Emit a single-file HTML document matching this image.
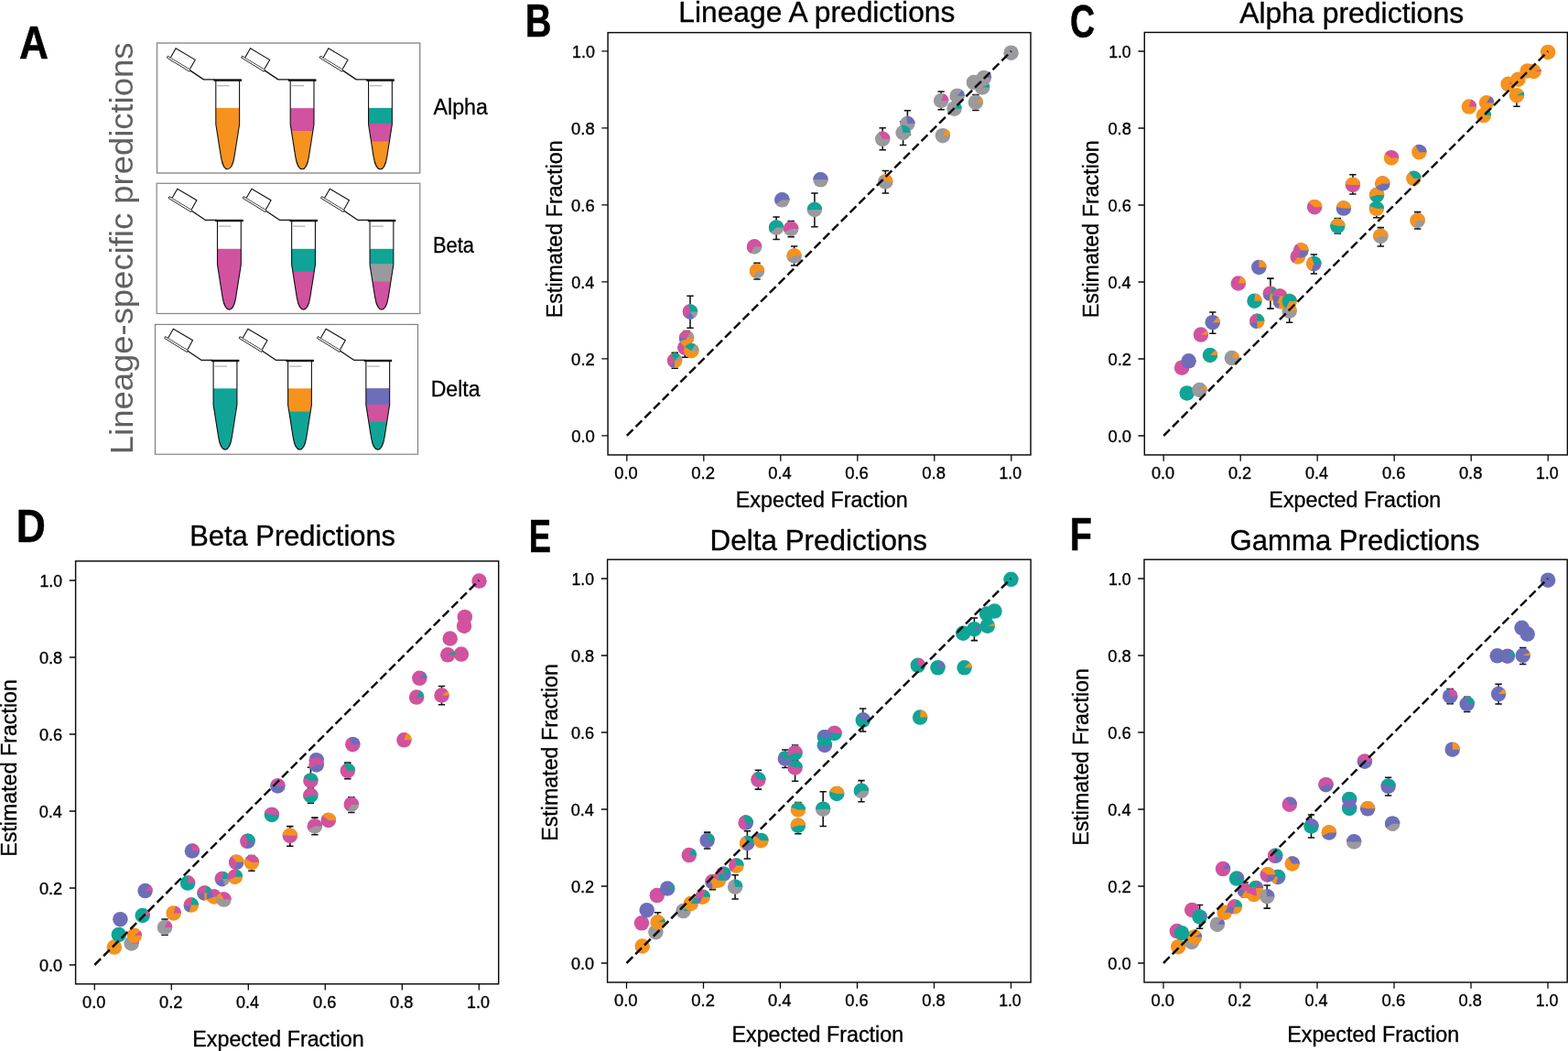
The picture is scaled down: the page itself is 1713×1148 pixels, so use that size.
<!DOCTYPE html>
<html lang="en"><head><meta charset="utf-8"><title>Lineage-specific predictions</title>
<style>html,body{margin:0;padding:0;background:#fff}body{width:1713px;height:1148px;overflow:hidden}svg{display:block;font-family:"Liberation Sans",Arial,sans-serif}</style></head><body>
<svg width="1713" height="1148" viewBox="0 0 1713 1148">
<rect width="1713" height="1148" fill="#fff"/>
<g id="panel-A">
<rect x="171.5" y="47" width="287.2" height="142" fill="#fff" stroke="#8c8c8c" stroke-width="1.4"/>
<rect x="171.2" y="200.3" width="287.6" height="142.2" fill="#fff" stroke="#8c8c8c" stroke-width="1.3"/>
<rect x="169.5" y="354.4" width="287" height="141.8" fill="#fff" stroke="#7a7a7a" stroke-width="1.1"/>
<g transform="translate(248.7 87.3)">
<clipPath id="tc0"><path d="M-12.9 0V48.5L-7.3 84C-6.2 91 -3.5 97.4 0 97.4C3.5 97.4 6.2 91 7.3 84L12.9 48.5V0Z"/></clipPath>
<g clip-path="url(#tc0)">
<rect x="-14" y="30.6" width="28" height="67.9" fill="#F6921E"/>
</g>
<path d="M-12.9 0V48.5L-7.3 84C-6.2 91 -3.5 97.4 0 97.4C3.5 97.4 6.2 91 7.3 84L12.9 48.5V0Z" fill="none" stroke="#111" stroke-width="1.1"/>
<path d="M-11.5 6.4H2" stroke="#888" stroke-width="0.8" fill="none"/>
<path d="M-15.2 0.3H15.4" stroke="#111" stroke-width="2.4" fill="none"/>
<path d="M-14 -0.4H-26.2L-41.1 -10.4" stroke="#111" stroke-width="1.3" fill="none" stroke-linejoin="round"/>
<path d="M-65.4 -26.1L-40.7 -11.2L-41.7 -9.1L-66.4 -24.3Z" fill="#fff" stroke="#111" stroke-width="0.9"/>
<path d="M-62.2 -24.6L-56.6 -34.5L-35.5 -21.9L-41.1 -12" fill="#fff" stroke="#111" stroke-width="1.1"/>
</g>
<g transform="translate(330.1 87.3)">
<clipPath id="tc1"><path d="M-12.9 0V48.5L-7.3 84C-6.2 91 -3.5 97.4 0 97.4C3.5 97.4 6.2 91 7.3 84L12.9 48.5V0Z"/></clipPath>
<g clip-path="url(#tc1)">
<rect x="-14" y="30.8" width="28" height="25.5" fill="#D1529F"/>
<rect x="-14" y="55.8" width="28" height="42.7" fill="#F6921E"/>
</g>
<path d="M-12.9 0V48.5L-7.3 84C-6.2 91 -3.5 97.4 0 97.4C3.5 97.4 6.2 91 7.3 84L12.9 48.5V0Z" fill="none" stroke="#111" stroke-width="1.1"/>
<path d="M-11.5 6.4H2" stroke="#888" stroke-width="0.8" fill="none"/>
<path d="M-15.2 0.3H15.4" stroke="#111" stroke-width="2.4" fill="none"/>
<path d="M-14 -0.4H-26.2L-41.1 -10.4" stroke="#111" stroke-width="1.3" fill="none" stroke-linejoin="round"/>
<path d="M-65.4 -26.1L-40.7 -11.2L-41.7 -9.1L-66.4 -24.3Z" fill="#fff" stroke="#111" stroke-width="0.9"/>
<path d="M-62.2 -24.6L-56.6 -34.5L-35.5 -21.9L-41.1 -12" fill="#fff" stroke="#111" stroke-width="1.1"/>
</g>
<g transform="translate(415.45 87.3)">
<clipPath id="tc2"><path d="M-12.9 0V48.5L-7.3 84C-6.2 91 -3.5 97.4 0 97.4C3.5 97.4 6.2 91 7.3 84L12.9 48.5V0Z"/></clipPath>
<g clip-path="url(#tc2)">
<rect x="-14" y="30.6" width="28" height="17.6" fill="#10A497"/>
<rect x="-14" y="47.7" width="28" height="20" fill="#D1529F"/>
<rect x="-14" y="67.2" width="28" height="31.3" fill="#F6921E"/>
</g>
<path d="M-12.9 0V48.5L-7.3 84C-6.2 91 -3.5 97.4 0 97.4C3.5 97.4 6.2 91 7.3 84L12.9 48.5V0Z" fill="none" stroke="#111" stroke-width="1.1"/>
<path d="M-11.5 6.4H2" stroke="#888" stroke-width="0.8" fill="none"/>
<path d="M-15.2 0.3H15.4" stroke="#111" stroke-width="2.4" fill="none"/>
<path d="M-14 -0.4H-26.2L-41.1 -10.4" stroke="#111" stroke-width="1.3" fill="none" stroke-linejoin="round"/>
<path d="M-65.4 -26.1L-40.7 -11.2L-41.7 -9.1L-66.4 -24.3Z" fill="#fff" stroke="#111" stroke-width="0.9"/>
<path d="M-62.2 -24.6L-56.6 -34.5L-35.5 -21.9L-41.1 -12" fill="#fff" stroke="#111" stroke-width="1.1"/>
</g>
<g transform="translate(250.4 240.7)">
<clipPath id="tc3"><path d="M-12.9 0V48.5L-7.3 84C-6.2 91 -3.5 97.4 0 97.4C3.5 97.4 6.2 91 7.3 84L12.9 48.5V0Z"/></clipPath>
<g clip-path="url(#tc3)">
<rect x="-14" y="31.1" width="28" height="67.4" fill="#D1529F"/>
</g>
<path d="M-12.9 0V48.5L-7.3 84C-6.2 91 -3.5 97.4 0 97.4C3.5 97.4 6.2 91 7.3 84L12.9 48.5V0Z" fill="none" stroke="#111" stroke-width="1.1"/>
<path d="M-11.5 6.4H2" stroke="#888" stroke-width="0.8" fill="none"/>
<path d="M-15.2 0.3H15.4" stroke="#111" stroke-width="2.4" fill="none"/>
<path d="M-14 -0.4H-26.2L-41.1 -10.4" stroke="#111" stroke-width="1.3" fill="none" stroke-linejoin="round"/>
<path d="M-65.4 -26.1L-40.7 -11.2L-41.7 -9.1L-66.4 -24.3Z" fill="#fff" stroke="#111" stroke-width="0.9"/>
<path d="M-62.2 -24.6L-56.6 -34.5L-35.5 -21.9L-41.1 -12" fill="#fff" stroke="#111" stroke-width="1.1"/>
</g>
<g transform="translate(331.55 240.7)">
<clipPath id="tc4"><path d="M-12.9 0V48.5L-7.3 84C-6.2 91 -3.5 97.4 0 97.4C3.5 97.4 6.2 91 7.3 84L12.9 48.5V0Z"/></clipPath>
<g clip-path="url(#tc4)">
<rect x="-14" y="31.1" width="28" height="25.5" fill="#10A497"/>
<rect x="-14" y="56.1" width="28" height="42.4" fill="#D1529F"/>
</g>
<path d="M-12.9 0V48.5L-7.3 84C-6.2 91 -3.5 97.4 0 97.4C3.5 97.4 6.2 91 7.3 84L12.9 48.5V0Z" fill="none" stroke="#111" stroke-width="1.1"/>
<path d="M-11.5 6.4H2" stroke="#888" stroke-width="0.8" fill="none"/>
<path d="M-15.2 0.3H15.4" stroke="#111" stroke-width="2.4" fill="none"/>
<path d="M-14 -0.4H-26.2L-41.1 -10.4" stroke="#111" stroke-width="1.3" fill="none" stroke-linejoin="round"/>
<path d="M-65.4 -26.1L-40.7 -11.2L-41.7 -9.1L-66.4 -24.3Z" fill="#fff" stroke="#111" stroke-width="0.9"/>
<path d="M-62.2 -24.6L-56.6 -34.5L-35.5 -21.9L-41.1 -12" fill="#fff" stroke="#111" stroke-width="1.1"/>
</g>
<g transform="translate(416.95 240.7)">
<clipPath id="tc5"><path d="M-12.9 0V48.5L-7.3 84C-6.2 91 -3.5 97.4 0 97.4C3.5 97.4 6.2 91 7.3 84L12.9 48.5V0Z"/></clipPath>
<g clip-path="url(#tc5)">
<rect x="-14" y="31.1" width="28" height="17" fill="#10A497"/>
<rect x="-14" y="47.6" width="28" height="19.8" fill="#9A999E"/>
<rect x="-14" y="66.9" width="28" height="31.6" fill="#D1529F"/>
</g>
<path d="M-12.9 0V48.5L-7.3 84C-6.2 91 -3.5 97.4 0 97.4C3.5 97.4 6.2 91 7.3 84L12.9 48.5V0Z" fill="none" stroke="#111" stroke-width="1.1"/>
<path d="M-11.5 6.4H2" stroke="#888" stroke-width="0.8" fill="none"/>
<path d="M-15.2 0.3H15.4" stroke="#111" stroke-width="2.4" fill="none"/>
<path d="M-14 -0.4H-26.2L-41.1 -10.4" stroke="#111" stroke-width="1.3" fill="none" stroke-linejoin="round"/>
<path d="M-65.4 -26.1L-40.7 -11.2L-41.7 -9.1L-66.4 -24.3Z" fill="#fff" stroke="#111" stroke-width="0.9"/>
<path d="M-62.2 -24.6L-56.6 -34.5L-35.5 -21.9L-41.1 -12" fill="#fff" stroke="#111" stroke-width="1.1"/>
</g>
<g transform="translate(246 393.7)">
<clipPath id="tc6"><path d="M-12.9 0V48.5L-7.3 84C-6.2 91 -3.5 97.4 0 97.4C3.5 97.4 6.2 91 7.3 84L12.9 48.5V0Z"/></clipPath>
<g clip-path="url(#tc6)">
<rect x="-14" y="30.6" width="28" height="67.9" fill="#10A497"/>
</g>
<path d="M-12.9 0V48.5L-7.3 84C-6.2 91 -3.5 97.4 0 97.4C3.5 97.4 6.2 91 7.3 84L12.9 48.5V0Z" fill="none" stroke="#111" stroke-width="1.1"/>
<path d="M-11.5 6.4H2" stroke="#888" stroke-width="0.8" fill="none"/>
<path d="M-15.2 0.3H15.4" stroke="#111" stroke-width="2.4" fill="none"/>
<path d="M-14 -0.4H-26.2L-41.1 -10.4" stroke="#111" stroke-width="1.3" fill="none" stroke-linejoin="round"/>
<path d="M-65.4 -26.1L-40.7 -11.2L-41.7 -9.1L-66.4 -24.3Z" fill="#fff" stroke="#111" stroke-width="0.9"/>
<path d="M-62.2 -24.6L-56.6 -34.5L-35.5 -21.9L-41.1 -12" fill="#fff" stroke="#111" stroke-width="1.1"/>
</g>
<g transform="translate(327.5 393.7)">
<clipPath id="tc7"><path d="M-12.9 0V48.5L-7.3 84C-6.2 91 -3.5 97.4 0 97.4C3.5 97.4 6.2 91 7.3 84L12.9 48.5V0Z"/></clipPath>
<g clip-path="url(#tc7)">
<rect x="-14" y="30.6" width="28" height="25.8" fill="#F6921E"/>
<rect x="-14" y="55.9" width="28" height="42.6" fill="#10A497"/>
</g>
<path d="M-12.9 0V48.5L-7.3 84C-6.2 91 -3.5 97.4 0 97.4C3.5 97.4 6.2 91 7.3 84L12.9 48.5V0Z" fill="none" stroke="#111" stroke-width="1.1"/>
<path d="M-11.5 6.4H2" stroke="#888" stroke-width="0.8" fill="none"/>
<path d="M-15.2 0.3H15.4" stroke="#111" stroke-width="2.4" fill="none"/>
<path d="M-14 -0.4H-26.2L-41.1 -10.4" stroke="#111" stroke-width="1.3" fill="none" stroke-linejoin="round"/>
<path d="M-65.4 -26.1L-40.7 -11.2L-41.7 -9.1L-66.4 -24.3Z" fill="#fff" stroke="#111" stroke-width="0.9"/>
<path d="M-62.2 -24.6L-56.6 -34.5L-35.5 -21.9L-41.1 -12" fill="#fff" stroke="#111" stroke-width="1.1"/>
</g>
<g transform="translate(412.75 393.7)">
<clipPath id="tc8"><path d="M-12.9 0V48.5L-7.3 84C-6.2 91 -3.5 97.4 0 97.4C3.5 97.4 6.2 91 7.3 84L12.9 48.5V0Z"/></clipPath>
<g clip-path="url(#tc8)">
<rect x="-14" y="30.4" width="28" height="18.2" fill="#6D6EBA"/>
<rect x="-14" y="48.1" width="28" height="19.5" fill="#D1529F"/>
<rect x="-14" y="67.1" width="28" height="31.4" fill="#10A497"/>
</g>
<path d="M-12.9 0V48.5L-7.3 84C-6.2 91 -3.5 97.4 0 97.4C3.5 97.4 6.2 91 7.3 84L12.9 48.5V0Z" fill="none" stroke="#111" stroke-width="1.1"/>
<path d="M-11.5 6.4H2" stroke="#888" stroke-width="0.8" fill="none"/>
<path d="M-15.2 0.3H15.4" stroke="#111" stroke-width="2.4" fill="none"/>
<path d="M-14 -0.4H-26.2L-41.1 -10.4" stroke="#111" stroke-width="1.3" fill="none" stroke-linejoin="round"/>
<path d="M-65.4 -26.1L-40.7 -11.2L-41.7 -9.1L-66.4 -24.3Z" fill="#fff" stroke="#111" stroke-width="0.9"/>
<path d="M-62.2 -24.6L-56.6 -34.5L-35.5 -21.9L-41.1 -12" fill="#fff" stroke="#111" stroke-width="1.1"/>
</g>
<text x="473.52" y="125" font-size="24.56" stroke="#000" stroke-width="0.3" textLength="59.37" lengthAdjust="spacingAndGlyphs">Alpha</text>
<text x="472.96" y="275.9" font-size="24.56" stroke="#000" stroke-width="0.3" textLength="44.93" lengthAdjust="spacingAndGlyphs">Beta</text>
<text x="470.64" y="432.9" font-size="24.56" stroke="#000" stroke-width="0.3" textLength="53.96" lengthAdjust="spacingAndGlyphs">Delta</text>
<text transform="translate(144.7 496.14) rotate(-90)" font-size="35.47" fill="#616163" textLength="449.55" lengthAdjust="spacingAndGlyphs">Lineage-specific predictions</text>
<text x="20.98" y="64.4" font-size="49.88" font-weight="bold" stroke="#000" stroke-width="0.5" textLength="31.96" lengthAdjust="spacingAndGlyphs">A</text>
</g>
<g id="panel-B">
<rect x="664.1" y="35.6" width="461.9" height="461.3" fill="#fff" stroke="#0a0a0a" stroke-width="1.45"/>
<path d="M684.8 496.9v6.8M664.1 475.9h-6.8M768.8 496.9v6.8M664.1 391.9h-6.8M852.8 496.9v6.8M664.1 307.9h-6.8M936.8 496.9v6.8M664.1 223.9h-6.8M1020.8 496.9v6.8M664.1 139.9h-6.8M1104.8 496.9v6.8M664.1 55.9h-6.8" stroke="#0a0a0a" stroke-width="1.3" fill="none"/>
<g class="ticks">
<text x="671.28" y="522.7" font-size="19.14" stroke="#000" stroke-width="0.35" textLength="25.43" lengthAdjust="spacingAndGlyphs">0.0</text>
<text x="624.14" y="482.7" font-size="19.14" stroke="#000" stroke-width="0.35" textLength="25.79" lengthAdjust="spacingAndGlyphs">0.0</text>
<text x="755.28" y="522.7" font-size="19.14" stroke="#000" stroke-width="0.35" textLength="25.76" lengthAdjust="spacingAndGlyphs">0.2</text>
<text x="624.11" y="398.7" font-size="19.14" stroke="#000" stroke-width="0.35" textLength="25.74" lengthAdjust="spacingAndGlyphs">0.2</text>
<text x="839.31" y="522.7" font-size="19.14" stroke="#000" stroke-width="0.35" textLength="25.39" lengthAdjust="spacingAndGlyphs">0.4</text>
<text x="624.19" y="314.7" font-size="19.14" stroke="#000" stroke-width="0.35" textLength="25.04" lengthAdjust="spacingAndGlyphs">0.4</text>
<text x="923.26" y="522.7" font-size="19.14" stroke="#000" stroke-width="0.35" textLength="25.63" lengthAdjust="spacingAndGlyphs">0.6</text>
<text x="624.12" y="230.7" font-size="19.14" stroke="#000" stroke-width="0.35" textLength="25.61" lengthAdjust="spacingAndGlyphs">0.6</text>
<text x="1007.31" y="522.7" font-size="19.14" stroke="#000" stroke-width="0.35" textLength="25.67" lengthAdjust="spacingAndGlyphs">0.8</text>
<text x="624.12" y="146.7" font-size="19.14" stroke="#000" stroke-width="0.35" textLength="25.62" lengthAdjust="spacingAndGlyphs">0.8</text>
<text x="1091.57" y="522.7" font-size="19.14" stroke="#000" stroke-width="0.35" textLength="24.46" lengthAdjust="spacingAndGlyphs">1.0</text>
<text x="624.99" y="62.7" font-size="19.14" stroke="#000" stroke-width="0.35" textLength="24.86" lengthAdjust="spacingAndGlyphs">1.0</text>
</g>
<path d="M737.2 385.3V402.2M733.5 385.3H740.9M733.5 402.2H740.9M750.1 361.5V377M746.4 361.5H753.8M746.4 377H753.8M748.4 370V390.2M744.7 370H752.1M744.7 390.2H752.1M754 323.2V358.3M750.3 323.2H757.7M750.3 358.3H757.7M827 287.2V305M823.3 287.2H830.7M823.3 305H830.7M867.6 269V290M863.9 269H871.3M863.9 290H871.3M848.1 237V261.5M844.4 237H851.8M844.4 261.5H851.8M864.2 241.4V258.7M860.5 241.4H867.9M860.5 258.7H867.9M889.9 211V247.8M886.2 211H893.6M886.2 247.8H893.6M967.3 186.5V211M963.6 186.5H971M963.6 211H971M964.2 139.7V163.7M960.5 139.7H967.9M960.5 163.7H967.9M991.4 120.8V147M987.7 120.8H995.1M987.7 147H995.1M986.6 133V158.5M982.9 133H990.3M982.9 158.5H990.3M1028.1 100V119.7M1024.4 100H1031.8M1024.4 119.7H1031.8M1065.9 103.5V120.5M1062.2 103.5H1069.6M1062.2 120.5H1069.6" stroke="#111" stroke-width="1.55" fill="none"/>
<circle cx="737.2" cy="393.8" r="8.25" fill="#F6921E"/><path d="M737.2 393.8L745.45 393.8A8.25 8.25 0 0 0 743.04 387.98Z" fill="#9A999E"/><path d="M737.2 393.8L743.04 387.98A8.25 8.25 0 0 0 732.62 386.94Z" fill="#10A497"/><path d="M737.2 393.8L732.62 386.94A8.25 8.25 0 0 0 731.64 399.9Z" fill="#D1529F"/><path d="M737.2 393.8L731.64 399.9A8.25 8.25 0 0 0 736.55 402.02Z" fill="#6D6EBA"/>
<circle cx="750.1" cy="369.2" r="8.25" fill="#F6921E"/><path d="M750.1 369.2L758.35 369.2A8.25 8.25 0 0 0 754.72 362.36Z" fill="#9A999E"/><path d="M750.1 369.2L754.72 362.36A8.25 8.25 0 0 0 741.86 368.85Z" fill="#D1529F"/><path d="M750.1 369.2L741.86 368.85A8.25 8.25 0 0 0 747.77 377.11Z" fill="#6D6EBA"/>
<circle cx="748.4" cy="379.7" r="8.25" fill="#9A999E"/><path d="M748.4 379.7L756.65 379.7A8.25 8.25 0 0 0 743 373.47Z" fill="#F6921E"/><path d="M748.4 379.7L743 373.47A8.25 8.25 0 0 0 753.19 386.42Z" fill="#D1529F"/>
<circle cx="755.4" cy="383.2" r="8.25" fill="#F6921E"/><path d="M755.4 383.2L763.65 383.2A8.25 8.25 0 0 0 759.46 376.02Z" fill="#9A999E"/><path d="M755.4 383.2L759.46 376.02A8.25 8.25 0 0 0 748.23 379.12Z" fill="#10A497"/>
<circle cx="754" cy="340.5" r="8.25" fill="#9A999E"/><path d="M754 340.5L762.25 340.5A8.25 8.25 0 0 0 751.71 332.57Z" fill="#10A497"/><path d="M754 340.5L751.71 332.57A8.25 8.25 0 0 0 748.69 346.81Z" fill="#D1529F"/><path d="M754 340.5L748.69 346.81A8.25 8.25 0 0 0 758.21 347.59Z" fill="#6D6EBA"/>
<circle cx="827" cy="296" r="8.25" fill="#9A999E"/><path d="M827 296L835.25 296A8.25 8.25 0 1 0 822.64 303.01Z" fill="#F6921E"/>
<circle cx="824.1" cy="269.5" r="8.25" fill="#9A999E"/><path d="M824.1 269.5L832.35 269.5A8.25 8.25 0 1 0 820.05 276.69Z" fill="#D1529F"/>
<circle cx="867.6" cy="279.5" r="8.25" fill="#9A999E"/><path d="M867.6 279.5L875.85 279.5A8.25 8.25 0 1 0 860.02 282.77Z" fill="#F6921E"/>
<circle cx="848.1" cy="248.6" r="8.25" fill="#9A999E"/><path d="M848.1 248.6L856.35 248.6A8.25 8.25 0 1 0 841.78 253.91Z" fill="#10A497"/>
<circle cx="864.2" cy="249.9" r="8.25" fill="#9A999E"/><path d="M864.2 249.9L872.45 249.9A8.25 8.25 0 1 0 856.8 253.55Z" fill="#D1529F"/>
<circle cx="854.4" cy="218.3" r="8.25" fill="#9A999E"/><path d="M854.4 218.3L862.65 218.3A8.25 8.25 0 1 0 847.61 222.99Z" fill="#6D6EBA"/>
<circle cx="889.9" cy="229" r="8.25" fill="#9A999E"/><path d="M889.9 229L898.15 229A8.25 8.25 0 1 0 881.67 229.6Z" fill="#10A497"/>
<circle cx="896.5" cy="196.3" r="8.25" fill="#9A999E"/><path d="M896.5 196.3L904.75 196.3A8.25 8.25 0 0 0 888.25 196.09Z" fill="#6D6EBA"/>
<circle cx="967.3" cy="198.4" r="8.25" fill="#9A999E"/><path d="M967.3 198.4L975.55 198.4A8.25 8.25 0 0 0 963.45 191.11Z" fill="#F6921E"/>
<circle cx="964.2" cy="151.8" r="8.25" fill="#9A999E"/><path d="M964.2 151.8L972.45 151.8A8.25 8.25 0 0 0 960.01 144.69Z" fill="#D1529F"/>
<circle cx="991.4" cy="135.1" r="8.25" fill="#9A999E"/><path d="M991.4 135.1L999.65 135.1A8.25 8.25 0 0 0 990.37 126.92Z" fill="#6D6EBA"/>
<circle cx="986.6" cy="145" r="8.25" fill="#9A999E"/><path d="M986.6 145L994.85 145A8.25 8.25 0 0 0 984.98 136.91Z" fill="#10A497"/>
<circle cx="1029.9" cy="148.2" r="8.25" fill="#9A999E"/><path d="M1029.9 148.2L1038.15 148.2A8.25 8.25 0 0 0 1033.49 140.77Z" fill="#F6921E"/>
<circle cx="1028.1" cy="110" r="8.25" fill="#9A999E"/><path d="M1028.1 110L1036.35 110A8.25 8.25 0 0 0 1031.49 102.48Z" fill="#D1529F"/>
<circle cx="1042.5" cy="118.7" r="8.25" fill="#9A999E"/><path d="M1042.5 118.7L1050.75 118.7A8.25 8.25 0 0 0 1047.42 112.08Z" fill="#10A497"/>
<circle cx="1045.7" cy="104.7" r="8.25" fill="#9A999E"/><path d="M1045.7 104.7L1053.95 104.7A8.25 8.25 0 0 0 1050.93 98.32Z" fill="#6D6EBA"/>
<circle cx="1065.9" cy="111.7" r="8.25" fill="#9A999E"/><path d="M1065.9 111.7L1074.15 111.7A8.25 8.25 0 0 0 1072.79 107.17Z" fill="#F6921E"/>
<circle cx="1063.8" cy="90.1" r="8.25" fill="#9A999E"/>
<circle cx="1073.1" cy="95.4" r="8.25" fill="#9A999E"/><path d="M1073.1 95.4L1081.35 95.4A8.25 8.25 0 0 0 1080.44 91.63Z" fill="#10A497"/>
<circle cx="1074.9" cy="84.9" r="8.25" fill="#9A999E"/><path d="M1074.9 84.9L1083.15 84.9A8.25 8.25 0 0 0 1082.34 81.33Z" fill="#6D6EBA"/>
<circle cx="1104.6" cy="57.7" r="8.25" fill="#9A999E"/>
<path d="M684.8 475.9L1104.8 55.9" stroke="#111" stroke-width="2.5" stroke-dasharray="9.63 4.16" fill="none"/>
<text x="741.3" y="23.9" font-size="31.4" stroke="#000" stroke-width="0.35" textLength="302.07" lengthAdjust="spacingAndGlyphs">Lineage A predictions</text>
<text x="803.79" y="554.3" font-size="23.98" stroke="#000" stroke-width="0.35" textLength="187.98" lengthAdjust="spacingAndGlyphs">Expected Fraction</text>
<text transform="translate(614.1 347.18) rotate(-90)" font-size="24.42" stroke="#000" stroke-width="0.35" textLength="193.87" lengthAdjust="spacingAndGlyphs">Estimated Fraction</text>
<text x="573.84" y="40.4" font-size="49.88" font-weight="bold" stroke="#000" stroke-width="0.5" textLength="28.75" lengthAdjust="spacingAndGlyphs">B</text>
</g>
<g id="panel-C">
<rect x="1250.3" y="35.4" width="462.1" height="461.5" fill="#fff" stroke="#0a0a0a" stroke-width="1.45"/>
<path d="M1271.2 496.9v6.8M1250.3 476h-6.8M1355.2 496.9v6.8M1250.3 392h-6.8M1439.2 496.9v6.8M1250.3 308h-6.8M1523.2 496.9v6.8M1250.3 224h-6.8M1607.2 496.9v6.8M1250.3 140h-6.8M1691.2 496.9v6.8M1250.3 56h-6.8" stroke="#0a0a0a" stroke-width="1.3" fill="none"/>
<g class="ticks">
<text x="1257.93" y="522.7" font-size="19.14" stroke="#000" stroke-width="0.35" textLength="25.29" lengthAdjust="spacingAndGlyphs">0.0</text>
<text x="1210.48" y="482.8" font-size="19.14" stroke="#000" stroke-width="0.35" textLength="25.53" lengthAdjust="spacingAndGlyphs">0.0</text>
<text x="1341.91" y="522.7" font-size="19.14" stroke="#000" stroke-width="0.35" textLength="25.31" lengthAdjust="spacingAndGlyphs">0.2</text>
<text x="1210.41" y="398.8" font-size="19.14" stroke="#000" stroke-width="0.35" textLength="25.58" lengthAdjust="spacingAndGlyphs">0.2</text>
<text x="1425.97" y="522.7" font-size="19.14" stroke="#000" stroke-width="0.35" textLength="25.05" lengthAdjust="spacingAndGlyphs">0.4</text>
<text x="1210.49" y="314.8" font-size="19.14" stroke="#000" stroke-width="0.35" textLength="25.12" lengthAdjust="spacingAndGlyphs">0.4</text>
<text x="1509.91" y="522.7" font-size="19.14" stroke="#000" stroke-width="0.35" textLength="25.47" lengthAdjust="spacingAndGlyphs">0.6</text>
<text x="1210.43" y="230.8" font-size="19.14" stroke="#000" stroke-width="0.35" textLength="25.43" lengthAdjust="spacingAndGlyphs">0.6</text>
<text x="1593.91" y="522.7" font-size="19.14" stroke="#000" stroke-width="0.35" textLength="25.49" lengthAdjust="spacingAndGlyphs">0.8</text>
<text x="1210.45" y="146.8" font-size="19.14" stroke="#000" stroke-width="0.35" textLength="25.41" lengthAdjust="spacingAndGlyphs">0.8</text>
<text x="1677.97" y="522.7" font-size="19.14" stroke="#000" stroke-width="0.35" textLength="24.64" lengthAdjust="spacingAndGlyphs">1.0</text>
<text x="1211.14" y="62.8" font-size="19.14" stroke="#000" stroke-width="0.35" textLength="24.55" lengthAdjust="spacingAndGlyphs">1.0</text>
</g>
<path d="M1324.8 341V364.2M1321.1 341H1328.5M1321.1 364.2H1328.5M1387.9 304.1V337.1M1384.2 304.1H1391.6M1384.2 337.1H1391.6M1408.7 327V352.2M1405 327H1412.4M1405 352.2H1412.4M1435.4 277.9V298.9M1431.7 277.9H1439.1M1431.7 298.9H1439.1M1461.3 238.6V254.9M1457.6 238.6H1465M1457.6 254.9H1465M1477.9 190.7V212M1474.2 190.7H1481.6M1474.2 212H1481.6M1503.8 218V237.7M1500.1 218H1507.5M1500.1 237.7H1507.5M1508.3 248.6V268.9M1504.6 248.6H1512M1504.6 268.9H1512M1548.7 231.6V250M1545 231.6H1552.4M1545 250H1552.4M1657 98V116.2M1653.3 98H1660.7M1653.3 116.2H1660.7" stroke="#111" stroke-width="1.55" fill="none"/>
<circle cx="1296.7" cy="429.4" r="8.25" fill="#10A497"/>
<circle cx="1310.5" cy="425.9" r="8.25" fill="#9A999E"/><path d="M1310.5 425.9L1318.75 425.9A8.25 8.25 0 0 0 1317.36 421.32Z" fill="#F6921E"/>
<circle cx="1291.1" cy="401.7" r="8.25" fill="#D1529F"/>
<circle cx="1298.6" cy="394.3" r="8.25" fill="#6D6EBA"/>
<circle cx="1322" cy="388" r="8.25" fill="#10A497"/><path d="M1322 388L1330.25 388A8.25 8.25 0 0 0 1327.98 382.32Z" fill="#F6921E"/>
<circle cx="1345.8" cy="391.1" r="8.25" fill="#9A999E"/><path d="M1345.8 391.1L1354.05 391.1A8.25 8.25 0 0 0 1349.42 383.69Z" fill="#F6921E"/>
<circle cx="1311.9" cy="365.6" r="8.25" fill="#D1529F"/><path d="M1311.9 365.6L1320.15 365.6A8.25 8.25 0 0 0 1318.67 360.88Z" fill="#F6921E"/>
<circle cx="1324.8" cy="352.2" r="8.25" fill="#6D6EBA"/><path d="M1324.8 352.2L1333.05 352.2A8.25 8.25 0 0 0 1330.54 346.27Z" fill="#F6921E"/>
<circle cx="1352.8" cy="309.5" r="8.25" fill="#D1529F"/><path d="M1352.8 309.5L1361.05 309.5A8.25 8.25 0 0 0 1355.63 301.75Z" fill="#F6921E"/>
<circle cx="1375.3" cy="291.9" r="8.25" fill="#6D6EBA"/><path d="M1375.3 291.9L1383.55 291.9A8.25 8.25 0 0 0 1375.41 283.65Z" fill="#F6921E"/>
<circle cx="1370.5" cy="328.7" r="8.25" fill="#10A497"/><path d="M1370.5 328.7L1378.75 328.7A8.25 8.25 0 0 0 1371.2 320.48Z" fill="#F6921E"/>
<circle cx="1373.3" cy="350.8" r="8.25" fill="#F6921E"/><path d="M1373.3 350.8L1381.55 350.8A8.25 8.25 0 0 0 1372.25 342.62Z" fill="#10A497"/><path d="M1373.3 350.8L1372.25 342.62A8.25 8.25 0 0 0 1365.32 352.88Z" fill="#D1529F"/><path d="M1373.3 350.8L1365.32 352.88A8.25 8.25 0 0 0 1373.66 359.04Z" fill="#6D6EBA"/>
<circle cx="1387.9" cy="320.7" r="8.25" fill="#F6921E"/><path d="M1387.9 320.7L1396.15 320.7A8.25 8.25 0 0 0 1390.81 312.98Z" fill="#10A497"/><path d="M1387.9 320.7L1390.81 312.98A8.25 8.25 0 0 0 1379.79 322.22Z" fill="#D1529F"/><path d="M1387.9 320.7L1379.79 322.22A8.25 8.25 0 0 0 1386.46 328.82Z" fill="#6D6EBA"/>
<circle cx="1408.7" cy="339.6" r="8.25" fill="#9A999E"/><path d="M1408.7 339.6L1416.95 339.6A8.25 8.25 0 0 0 1404.85 332.31Z" fill="#F6921E"/>
<circle cx="1399" cy="329.5" r="8.25" fill="#F6921E"/><path d="M1399 329.5L1407.25 329.5A8.25 8.25 0 0 0 1391.84 325.41Z" fill="#D1529F"/><path d="M1399 329.5L1391.84 325.41A8.25 8.25 0 0 0 1396.24 337.27Z" fill="#6D6EBA"/>
<circle cx="1398.1" cy="323.5" r="8.25" fill="#F6921E"/><path d="M1398.1 323.5L1406.35 323.5A8.25 8.25 0 0 0 1389.9 322.63Z" fill="#D1529F"/><path d="M1398.1 323.5L1389.9 322.63A8.25 8.25 0 0 0 1395.45 331.31Z" fill="#6D6EBA"/>
<circle cx="1408.7" cy="329.1" r="8.25" fill="#F6921E"/><path d="M1408.7 329.1L1416.95 329.1A8.25 8.25 0 1 0 1404.85 336.39Z" fill="#10A497"/>
<circle cx="1417.9" cy="280.4" r="8.25" fill="#F6921E"/><path d="M1417.9 280.4L1426.15 280.4A8.25 8.25 0 1 0 1413.08 287.1Z" fill="#D1529F"/>
<circle cx="1421.4" cy="273.4" r="8.25" fill="#6D6EBA"/><path d="M1421.4 273.4L1429.65 273.4A8.25 8.25 0 0 0 1416.24 266.97Z" fill="#F6921E"/><path d="M1421.4 273.4L1416.24 266.97A8.25 8.25 0 0 0 1418.36 281.07Z" fill="#D1529F"/>
<circle cx="1435.4" cy="288.1" r="8.25" fill="#6D6EBA"/><path d="M1435.4 288.1L1443.65 288.1A8.25 8.25 0 0 0 1432.63 280.33Z" fill="#10A497"/><path d="M1435.4 288.1L1432.63 280.33A8.25 8.25 0 0 0 1432.63 295.87Z" fill="#F6921E"/>
<circle cx="1436.1" cy="226.2" r="8.25" fill="#D1529F"/><path d="M1436.1 226.2L1444.35 226.2A8.25 8.25 0 0 0 1429.66 221.05Z" fill="#F6921E"/>
<circle cx="1467.9" cy="227.6" r="8.25" fill="#6D6EBA"/><path d="M1467.9 227.6L1476.15 227.6A8.25 8.25 0 0 0 1459.81 225.97Z" fill="#F6921E"/>
<circle cx="1461.3" cy="246.8" r="8.25" fill="#10A497"/><path d="M1461.3 246.8L1469.55 246.8A8.25 8.25 0 0 0 1453.41 244.38Z" fill="#F6921E"/>
<circle cx="1477.9" cy="201.9" r="8.25" fill="#D1529F"/><path d="M1477.9 201.9L1486.15 201.9A8.25 8.25 0 0 0 1469.66 201.49Z" fill="#F6921E"/>
<circle cx="1503.8" cy="227.8" r="8.25" fill="#F6921E"/><path d="M1503.8 227.8L1512.05 227.8A8.25 8.25 0 0 0 1496.02 225.06Z" fill="#10A497"/>
<circle cx="1504.1" cy="213.1" r="8.25" fill="#10A497"/><path d="M1504.1 213.1L1512.35 213.1A8.25 8.25 0 1 0 1496.33 215.87Z" fill="#F6921E"/>
<circle cx="1510.4" cy="200.5" r="8.25" fill="#6D6EBA"/><path d="M1510.4 200.5L1518.65 200.5A8.25 8.25 0 1 0 1502.92 203.99Z" fill="#F6921E"/>
<circle cx="1508.3" cy="258" r="8.25" fill="#9A999E"/><path d="M1508.3 258L1516.55 258A8.25 8.25 0 1 0 1500.72 261.25Z" fill="#F6921E"/>
<circle cx="1520" cy="172.4" r="8.25" fill="#F6921E"/><path d="M1520 172.4L1528.25 172.4A8.25 8.25 0 0 0 1513.1 167.88Z" fill="#D1529F"/>
<circle cx="1550.4" cy="166.2" r="8.25" fill="#F6921E"/><path d="M1550.4 166.2L1558.65 166.2A8.25 8.25 0 0 0 1546.19 159.11Z" fill="#6D6EBA"/>
<circle cx="1544.4" cy="194.9" r="8.25" fill="#F6921E"/><path d="M1544.4 194.9L1552.65 194.9A8.25 8.25 0 0 0 1539.57 188.21Z" fill="#10A497"/>
<circle cx="1548.7" cy="240.9" r="8.25" fill="#9A999E"/><path d="M1548.7 240.9L1556.95 240.9A8.25 8.25 0 1 0 1544.31 247.89Z" fill="#F6921E"/>
<circle cx="1604.9" cy="116.6" r="8.25" fill="#F6921E"/><path d="M1604.9 116.6L1613.15 116.6A8.25 8.25 0 0 0 1607.18 108.67Z" fill="#D1529F"/>
<circle cx="1620.9" cy="126.1" r="8.25" fill="#F6921E"/><path d="M1620.9 126.1L1629.15 126.1A8.25 8.25 0 0 0 1624.99 118.94Z" fill="#10A497"/>
<circle cx="1624" cy="112.3" r="8.25" fill="#F6921E"/><path d="M1624 112.3L1632.25 112.3A8.25 8.25 0 0 0 1628.42 105.33Z" fill="#6D6EBA"/>
<circle cx="1657" cy="104.2" r="8.25" fill="#F6921E"/><path d="M1657 104.2L1665.25 104.2A8.25 8.25 0 0 0 1664.19 100.16Z" fill="#10A497"/>
<circle cx="1647.6" cy="91.8" r="8.25" fill="#F6921E"/><path d="M1647.6 91.8L1655.85 91.8A8.25 8.25 0 0 0 1654.16 86.79Z" fill="#D1529F"/>
<circle cx="1658.5" cy="86.7" r="8.25" fill="#F6921E"/>
<circle cx="1675.5" cy="78" r="8.25" fill="#F6921E"/><path d="M1675.5 78L1683.75 78A8.25 8.25 0 0 0 1683.52 76.08Z" fill="#D1529F"/>
<circle cx="1668.6" cy="77.5" r="8.25" fill="#F6921E"/>
<circle cx="1691.1" cy="56.9" r="8.25" fill="#F6921E"/>
<path d="M1271.2 476L1691.2 56" stroke="#111" stroke-width="2.5" stroke-dasharray="9.63 4.16" fill="none"/>
<text x="1354.15" y="25" font-size="31.4" stroke="#000" stroke-width="0.35" textLength="244.97" lengthAdjust="spacingAndGlyphs">Alpha predictions</text>
<text x="1386.36" y="554.3" font-size="23.98" stroke="#000" stroke-width="0.35" textLength="187.78" lengthAdjust="spacingAndGlyphs">Expected Fraction</text>
<text transform="translate(1200.3 347.18) rotate(-90)" font-size="24.42" stroke="#000" stroke-width="0.35" textLength="193.87" lengthAdjust="spacingAndGlyphs">Estimated Fraction</text>
<text x="1169.05" y="41" font-size="50.31" font-weight="bold" stroke="#000" stroke-width="0.5" textLength="27.14" lengthAdjust="spacingAndGlyphs">C</text>
</g>
<g id="panel-D">
<rect x="82.6" y="612.9" width="462.1" height="461.9" fill="#fff" stroke="#0a0a0a" stroke-width="1.45"/>
<path d="M103.3 1074.8v6.8M82.6 1054h-6.8M187.3 1074.8v6.8M82.6 970h-6.8M271.3 1074.8v6.8M82.6 886h-6.8M355.3 1074.8v6.8M82.6 802h-6.8M439.3 1074.8v6.8M82.6 718h-6.8M523.3 1074.8v6.8M82.6 634h-6.8" stroke="#0a0a0a" stroke-width="1.3" fill="none"/>
<g class="ticks">
<text x="90.05" y="1100.6" font-size="19.14" stroke="#000" stroke-width="0.35" textLength="25.21" lengthAdjust="spacingAndGlyphs">0.0</text>
<text x="42.91" y="1060.8" font-size="19.14" stroke="#000" stroke-width="0.35" textLength="25.11" lengthAdjust="spacingAndGlyphs">0.0</text>
<text x="174.07" y="1100.6" font-size="19.14" stroke="#000" stroke-width="0.35" textLength="25.36" lengthAdjust="spacingAndGlyphs">0.2</text>
<text x="42.9" y="976.8" font-size="19.14" stroke="#000" stroke-width="0.35" textLength="25.37" lengthAdjust="spacingAndGlyphs">0.2</text>
<text x="258.11" y="1100.6" font-size="19.14" stroke="#000" stroke-width="0.35" textLength="24.96" lengthAdjust="spacingAndGlyphs">0.4</text>
<text x="42.75" y="892.8" font-size="19.14" stroke="#000" stroke-width="0.35" textLength="25.17" lengthAdjust="spacingAndGlyphs">0.4</text>
<text x="342.07" y="1100.6" font-size="19.14" stroke="#000" stroke-width="0.35" textLength="25.36" lengthAdjust="spacingAndGlyphs">0.6</text>
<text x="42.9" y="808.8" font-size="19.14" stroke="#000" stroke-width="0.35" textLength="25.23" lengthAdjust="spacingAndGlyphs">0.6</text>
<text x="426.07" y="1100.6" font-size="19.14" stroke="#000" stroke-width="0.35" textLength="25.37" lengthAdjust="spacingAndGlyphs">0.8</text>
<text x="42.9" y="724.8" font-size="19.14" stroke="#000" stroke-width="0.35" textLength="25.24" lengthAdjust="spacingAndGlyphs">0.8</text>
<text x="509.99" y="1100.6" font-size="19.14" stroke="#000" stroke-width="0.35" textLength="24.86" lengthAdjust="spacingAndGlyphs">1.0</text>
<text x="43.57" y="640.8" font-size="19.14" stroke="#000" stroke-width="0.35" textLength="24.46" lengthAdjust="spacingAndGlyphs">1.0</text>
</g>
<path d="M180 1004V1021.2M176.3 1004H183.7M176.3 1021.2H183.7M274.9 934.4V951.2M271.2 934.4H278.6M271.2 951.2H278.6M316.8 902.6V924.2M313.1 902.6H320.5M313.1 924.2H320.5M343.9 893.1V911.7M340.2 893.1H347.6M340.2 911.7H347.6M339.4 860V877.3M335.7 860H343.1M335.7 877.3H343.1M339.4 838.3V862M335.7 838.3H343.1M335.7 862H343.1M383.9 870.7V887.5M380.2 870.7H387.6M380.2 887.5H387.6M379.8 833.1V850.6M376.1 833.1H383.5M376.1 850.6H383.5M482.5 749.4V769.7M478.8 749.4H486.2M478.8 769.7H486.2" stroke="#111" stroke-width="1.55" fill="none"/>
<circle cx="124.8" cy="1034.6" r="8.25" fill="#F6921E"/>
<circle cx="143.6" cy="1030.5" r="8.25" fill="#9A999E"/><path d="M143.6 1030.5L151.85 1030.5A8.25 8.25 0 0 0 150.4 1025.82Z" fill="#D1529F"/>
<circle cx="129.8" cy="1020.9" r="8.25" fill="#10A497"/>
<circle cx="146.8" cy="1021.8" r="8.25" fill="#F6921E"/><path d="M146.8 1021.8L155.05 1021.8A8.25 8.25 0 0 0 153.36 1016.8Z" fill="#D1529F"/>
<circle cx="131.4" cy="1004.2" r="8.25" fill="#6D6EBA"/>
<circle cx="155.7" cy="1000" r="8.25" fill="#10A497"/><path d="M155.7 1000L163.95 1000A8.25 8.25 0 0 0 161.54 994.18Z" fill="#D1529F"/>
<circle cx="180" cy="1013" r="8.25" fill="#9A999E"/><path d="M180 1013L188.25 1013A8.25 8.25 0 0 0 183.39 1005.48Z" fill="#D1529F"/>
<circle cx="158.6" cy="973.1" r="8.25" fill="#6D6EBA"/><path d="M158.6 973.1L166.85 973.1A8.25 8.25 0 0 0 164.18 967.03Z" fill="#D1529F"/>
<circle cx="189.6" cy="997.4" r="8.25" fill="#F6921E"/><path d="M189.6 997.4L197.85 997.4A8.25 8.25 0 0 0 191.88 989.47Z" fill="#D1529F"/>
<circle cx="208.9" cy="988.6" r="8.25" fill="#F6921E"/><path d="M208.9 988.6L217.15 988.6A8.25 8.25 0 0 0 208.73 980.35Z" fill="#10A497"/><path d="M208.9 988.6L208.73 980.35A8.25 8.25 0 0 0 200.65 988.85Z" fill="#D1529F"/><path d="M208.9 988.6L200.65 988.85A8.25 8.25 0 0 0 206.95 996.62Z" fill="#6D6EBA"/>
<circle cx="205.1" cy="964.6" r="8.25" fill="#10A497"/><path d="M205.1 964.6L213.35 964.6A8.25 8.25 0 0 0 205.49 956.36Z" fill="#D1529F"/>
<circle cx="209.9" cy="929.5" r="8.25" fill="#6D6EBA"/><path d="M209.9 929.5L218.15 929.5A8.25 8.25 0 0 0 209.7 921.25Z" fill="#D1529F"/>
<circle cx="223.5" cy="975.5" r="8.25" fill="#F6921E"/><path d="M223.5 975.5L231.75 975.5A8.25 8.25 0 0 0 225.85 967.59Z" fill="#10A497"/><path d="M223.5 975.5L225.85 967.59A8.25 8.25 0 0 0 215.27 974.99Z" fill="#D1529F"/><path d="M223.5 975.5L215.27 974.99A8.25 8.25 0 0 0 223.24 983.75Z" fill="#6D6EBA"/>
<circle cx="233.8" cy="979.5" r="8.25" fill="#F6921E"/><path d="M233.8 979.5L242.05 979.5A8.25 8.25 0 0 0 230.73 971.84Z" fill="#D1529F"/><path d="M233.8 979.5L230.73 971.84A8.25 8.25 0 0 0 226.16 982.6Z" fill="#6D6EBA"/>
<circle cx="244.5" cy="982.6" r="8.25" fill="#9A999E"/><path d="M244.5 982.6L252.75 982.6A8.25 8.25 0 0 0 240.25 975.53Z" fill="#D1529F"/><path d="M244.5 982.6L240.25 975.53A8.25 8.25 0 0 0 236.55 980.39Z" fill="#F6921E"/>
<circle cx="242.9" cy="960" r="8.25" fill="#9A999E"/><path d="M242.9 960L251.15 960A8.25 8.25 0 0 0 243.5 951.77Z" fill="#10A497"/><path d="M242.9 960L243.5 951.77A8.25 8.25 0 0 0 235.45 963.55Z" fill="#D1529F"/><path d="M242.9 960L235.45 963.55A8.25 8.25 0 0 0 245.9 967.68Z" fill="#6D6EBA"/>
<circle cx="256.9" cy="957.7" r="8.25" fill="#F6921E"/><path d="M256.9 957.7L265.15 957.7A8.25 8.25 0 0 0 258.88 949.69Z" fill="#10A497"/><path d="M256.9 957.7L258.88 949.69A8.25 8.25 0 0 0 249.6 961.54Z" fill="#D1529F"/>
<circle cx="258.3" cy="941.8" r="8.25" fill="#6D6EBA"/><path d="M258.3 941.8L266.55 941.8A8.25 8.25 0 0 0 253.02 935.46Z" fill="#F6921E"/><path d="M258.3 941.8L253.02 935.46A8.25 8.25 0 0 0 257.25 949.98Z" fill="#D1529F"/>
<circle cx="274.9" cy="942.1" r="8.25" fill="#F6921E"/><path d="M274.9 942.1L283.15 942.1A8.25 8.25 0 0 0 267.97 937.62Z" fill="#D1529F"/>
<circle cx="270.6" cy="918.8" r="8.25" fill="#6D6EBA"/><path d="M270.6 918.8L278.85 918.8A8.25 8.25 0 0 0 268.01 910.97Z" fill="#10A497"/><path d="M270.6 918.8L268.01 910.97A8.25 8.25 0 0 0 268.01 926.63Z" fill="#D1529F"/>
<circle cx="316.8" cy="912.8" r="8.25" fill="#D1529F"/><path d="M316.8 912.8L325.05 912.8A8.25 8.25 0 0 0 308.56 912.37Z" fill="#F6921E"/>
<circle cx="296.9" cy="889.9" r="8.25" fill="#10A497"/><path d="M296.9 889.9L305.15 889.9A8.25 8.25 0 0 0 288.9 887.9Z" fill="#D1529F"/>
<circle cx="303.4" cy="858.4" r="8.25" fill="#6D6EBA"/><path d="M303.4 858.4L311.65 858.4A8.25 8.25 0 0 0 295.24 857.18Z" fill="#D1529F"/>
<circle cx="343.9" cy="902.5" r="8.25" fill="#9A999E"/><path d="M343.9 902.5L352.15 902.5A8.25 8.25 0 1 0 336.5 906.15Z" fill="#D1529F"/>
<circle cx="358.8" cy="895.9" r="8.25" fill="#D1529F"/><path d="M358.8 895.9L367.05 895.9A8.25 8.25 0 0 0 352.39 890.71Z" fill="#F6921E"/>
<circle cx="339.4" cy="868.9" r="8.25" fill="#10A497"/><path d="M339.4 868.9L347.65 868.9A8.25 8.25 0 1 0 331.77 872.04Z" fill="#D1529F"/>
<circle cx="339.4" cy="852.7" r="8.25" fill="#D1529F"/><path d="M339.4 852.7L347.65 852.7A8.25 8.25 0 0 0 331.77 849.56Z" fill="#10A497"/>
<circle cx="345.7" cy="830.5" r="8.25" fill="#D1529F"/><path d="M345.7 830.5L353.95 830.5A8.25 8.25 0 0 0 338.4 826.66Z" fill="#6D6EBA"/>
<circle cx="345.7" cy="835.5" r="8.25" fill="#6D6EBA"/><path d="M345.7 835.5L353.95 835.5A8.25 8.25 0 1 0 338.4 839.34Z" fill="#D1529F"/>
<circle cx="383.9" cy="878.7" r="8.25" fill="#9A999E"/><path d="M383.9 878.7L392.15 878.7A8.25 8.25 0 1 0 379.84 885.88Z" fill="#D1529F"/>
<circle cx="379.8" cy="841.8" r="8.25" fill="#D1529F"/><path d="M379.8 841.8L388.05 841.8A8.25 8.25 0 0 0 375.31 834.88Z" fill="#10A497"/>
<circle cx="385.3" cy="813.2" r="8.25" fill="#D1529F"/><path d="M385.3 813.2L393.55 813.2A8.25 8.25 0 0 0 381.39 805.94Z" fill="#6D6EBA"/>
<circle cx="441.4" cy="808.3" r="8.25" fill="#D1529F"/><path d="M441.4 808.3L449.65 808.3A8.25 8.25 0 0 0 444.19 800.54Z" fill="#F6921E"/>
<circle cx="455.1" cy="761.6" r="8.25" fill="#D1529F"/><path d="M455.1 761.6L463.35 761.6A8.25 8.25 0 0 0 459.42 754.57Z" fill="#10A497"/>
<circle cx="458.3" cy="740.8" r="8.25" fill="#D1529F"/><path d="M458.3 740.8L466.55 740.8A8.25 8.25 0 0 0 462.95 733.98Z" fill="#6D6EBA"/>
<circle cx="482.5" cy="759.5" r="8.25" fill="#D1529F"/><path d="M482.5 759.5L490.75 759.5A8.25 8.25 0 0 0 489.26 754.77Z" fill="#F6921E"/>
<circle cx="503.9" cy="714.6" r="8.25" fill="#D1529F"/>
<circle cx="489.2" cy="715.3" r="8.25" fill="#D1529F"/><path d="M489.2 715.3L497.45 715.3A8.25 8.25 0 0 0 496.4 711.27Z" fill="#10A497"/>
<circle cx="491.7" cy="697.5" r="8.25" fill="#D1529F"/>
<circle cx="507" cy="683.7" r="8.25" fill="#D1529F"/>
<circle cx="507.8" cy="673.9" r="8.25" fill="#D1529F"/>
<circle cx="523.5" cy="634.6" r="8.25" fill="#D1529F"/>
<path d="M103.3 1054L523.3 634" stroke="#111" stroke-width="2.5" stroke-dasharray="9.63 4.16" fill="none"/>
<text x="207.25" y="596.4" font-size="31.4" stroke="#000" stroke-width="0.35" textLength="224.78" lengthAdjust="spacingAndGlyphs">Beta Predictions</text>
<text x="210.37" y="1142.8" font-size="23.98" stroke="#000" stroke-width="0.35" textLength="187.35" lengthAdjust="spacingAndGlyphs">Expected Fraction</text>
<text transform="translate(18.2 935.67) rotate(-90)" font-size="24.42" stroke="#000" stroke-width="0.35" textLength="193.54" lengthAdjust="spacingAndGlyphs">Estimated Fraction</text>
<text x="17.82" y="591.9" font-size="49.88" font-weight="bold" stroke="#000" stroke-width="0.5" textLength="32.13" lengthAdjust="spacingAndGlyphs">D</text>
</g>
<g id="panel-E">
<rect x="663.6" y="611.2" width="462.5" height="461.8" fill="#fff" stroke="#0a0a0a" stroke-width="1.45"/>
<path d="M684.5 1073v6.8M663.6 1052h-6.8M768.5 1073v6.8M663.6 968h-6.8M852.5 1073v6.8M663.6 884h-6.8M936.5 1073v6.8M663.6 800h-6.8M1020.5 1073v6.8M663.6 716h-6.8M1104.5 1073v6.8M663.6 632h-6.8" stroke="#0a0a0a" stroke-width="1.3" fill="none"/>
<g class="ticks">
<text x="670.95" y="1098.8" font-size="19.14" stroke="#000" stroke-width="0.35" textLength="25.71" lengthAdjust="spacingAndGlyphs">0.0</text>
<text x="623.91" y="1058.8" font-size="19.14" stroke="#000" stroke-width="0.35" textLength="25.11" lengthAdjust="spacingAndGlyphs">0.0</text>
<text x="755.31" y="1098.8" font-size="19.14" stroke="#000" stroke-width="0.35" textLength="25.57" lengthAdjust="spacingAndGlyphs">0.2</text>
<text x="623.9" y="974.8" font-size="19.14" stroke="#000" stroke-width="0.35" textLength="25.37" lengthAdjust="spacingAndGlyphs">0.2</text>
<text x="838.94" y="1098.8" font-size="19.14" stroke="#000" stroke-width="0.35" textLength="25.54" lengthAdjust="spacingAndGlyphs">0.4</text>
<text x="623.75" y="890.8" font-size="19.14" stroke="#000" stroke-width="0.35" textLength="25.17" lengthAdjust="spacingAndGlyphs">0.4</text>
<text x="923.32" y="1098.8" font-size="19.14" stroke="#000" stroke-width="0.35" textLength="25.39" lengthAdjust="spacingAndGlyphs">0.6</text>
<text x="623.9" y="806.8" font-size="19.14" stroke="#000" stroke-width="0.35" textLength="25.23" lengthAdjust="spacingAndGlyphs">0.6</text>
<text x="1007.33" y="1098.8" font-size="19.14" stroke="#000" stroke-width="0.35" textLength="25.38" lengthAdjust="spacingAndGlyphs">0.8</text>
<text x="623.9" y="722.8" font-size="19.14" stroke="#000" stroke-width="0.35" textLength="25.24" lengthAdjust="spacingAndGlyphs">0.8</text>
<text x="1091.14" y="1098.8" font-size="19.14" stroke="#000" stroke-width="0.35" textLength="24.55" lengthAdjust="spacingAndGlyphs">1.0</text>
<text x="624.57" y="638.8" font-size="19.14" stroke="#000" stroke-width="0.35" textLength="24.46" lengthAdjust="spacingAndGlyphs">1.0</text>
</g>
<path d="M718.6 996.8V1016M714.9 996.8H722.3M714.9 1016H722.3M772.6 909.1V926.9M768.9 909.1H776.3M768.9 926.9H776.3M778.5 960V971.8M774.8 960H782.2M774.8 971.8H782.2M803.1 955.8V982M799.4 955.8H806.8M799.4 982H806.8M816.4 907.7V937.9M812.7 907.7H820.1M812.7 937.9H820.1M828.4 841.3V862.1M824.7 841.3H832.1M824.7 862.1H832.1M871.9 901.7V910.8M868.2 901.7H875.6M868.2 910.8H875.6M871.9 876.4V884.5M868.2 876.4H875.6M868.2 884.5H875.6M899.2 864.8V902.4M895.5 864.8H902.9M895.5 902.4H902.9M941 852.6V875.7M937.3 852.6H944.7M937.3 875.7H944.7M857.8 818.9V838.5M854.1 818.9H861.5M854.1 838.5H861.5M868.6 814V831M864.9 814H872.3M864.9 831H872.3M868.6 830V853.3M864.9 830H872.3M864.9 853.3H872.3M942.7 774V799M939 774H946.4M939 799H946.4M1064.4 674.9V699.6M1060.7 674.9H1068.1M1060.7 699.6H1068.1" stroke="#111" stroke-width="1.55" fill="none"/>
<circle cx="701.7" cy="1033.5" r="8.25" fill="#F6921E"/>
<circle cx="716.4" cy="1018.2" r="8.25" fill="#9A999E"/>
<circle cx="701" cy="1008.3" r="8.25" fill="#D1529F"/>
<circle cx="718.6" cy="1007.3" r="8.25" fill="#F6921E"/><path d="M718.6 1007.3L726.85 1007.3A8.25 8.25 0 0 0 725.8 1003.27Z" fill="#10A497"/>
<circle cx="706.7" cy="994.2" r="8.25" fill="#6D6EBA"/>
<circle cx="717.8" cy="978.1" r="8.25" fill="#D1529F"/>
<circle cx="729.1" cy="970.5" r="8.25" fill="#6D6EBA"/><path d="M729.1 970.5L737.35 970.5A8.25 8.25 0 0 0 735.58 965.39Z" fill="#10A497"/>
<circle cx="746.5" cy="995.1" r="8.25" fill="#9A999E"/><path d="M746.5 995.1L754.75 995.1A8.25 8.25 0 0 0 751.45 988.5Z" fill="#10A497"/>
<circle cx="754.7" cy="987" r="8.25" fill="#F6921E"/><path d="M754.7 987L762.95 987A8.25 8.25 0 0 0 758.8 979.84Z" fill="#10A497"/>
<circle cx="767.7" cy="979.7" r="8.25" fill="#F6921E"/><path d="M767.7 979.7L775.95 979.7A8.25 8.25 0 0 0 770.34 971.88Z" fill="#10A497"/><path d="M767.7 979.7L770.34 971.88A8.25 8.25 0 0 0 759.51 980.68Z" fill="#D1529F"/><path d="M767.7 979.7L759.51 980.68A8.25 8.25 0 0 0 764.15 987.15Z" fill="#6D6EBA"/>
<circle cx="752.8" cy="934.1" r="8.25" fill="#D1529F"/><path d="M752.8 934.1L761.05 934.1A8.25 8.25 0 0 0 757.11 927.06Z" fill="#10A497"/>
<circle cx="772.6" cy="918" r="8.25" fill="#6D6EBA"/><path d="M772.6 918L780.85 918A8.25 8.25 0 0 0 774.66 910.01Z" fill="#10A497"/>
<circle cx="778.5" cy="963.1" r="8.25" fill="#F6921E"/><path d="M778.5 963.1L786.75 963.1A8.25 8.25 0 0 0 779.85 954.96Z" fill="#10A497"/><path d="M778.5 963.1L779.85 954.96A8.25 8.25 0 0 0 770.36 964.42Z" fill="#D1529F"/><path d="M778.5 963.1L770.36 964.42A8.25 8.25 0 0 0 778.05 971.34Z" fill="#6D6EBA"/>
<circle cx="790.4" cy="954.7" r="8.25" fill="#6D6EBA"/><path d="M790.4 954.7L798.65 954.7A8.25 8.25 0 0 0 790.29 946.45Z" fill="#10A497"/><path d="M790.4 954.7L790.29 946.45A8.25 8.25 0 0 0 786.86 962.15Z" fill="#D1529F"/>
<circle cx="784.8" cy="961.7" r="8.25" fill="#F6921E"/><path d="M784.8 961.7L793.05 961.7A8.25 8.25 0 0 0 785.38 953.47Z" fill="#10A497"/><path d="M784.8 961.7L785.38 953.47A8.25 8.25 0 0 0 777.71 957.48Z" fill="#D1529F"/>
<circle cx="803.1" cy="968.7" r="8.25" fill="#9A999E"/><path d="M803.1 968.7L811.35 968.7A8.25 8.25 0 0 0 801.43 960.62Z" fill="#10A497"/>
<circle cx="804.5" cy="945.6" r="8.25" fill="#F6921E"/><path d="M804.5 945.6L812.75 945.6A8.25 8.25 0 0 0 802.66 937.56Z" fill="#10A497"/><path d="M804.5 945.6L802.66 937.56A8.25 8.25 0 0 0 799.36 952.05Z" fill="#D1529F"/>
<circle cx="816.4" cy="921" r="8.25" fill="#6D6EBA"/><path d="M816.4 921L824.65 921A8.25 8.25 0 0 0 813.17 913.41Z" fill="#10A497"/><path d="M816.4 921L813.17 913.41A8.25 8.25 0 0 0 811.85 927.88Z" fill="#F6921E"/>
<circle cx="831.4" cy="918.2" r="8.25" fill="#F6921E"/><path d="M831.4 918.2L839.65 918.2A8.25 8.25 0 0 0 826.56 911.52Z" fill="#10A497"/><path d="M831.4 918.2L826.56 911.52A8.25 8.25 0 0 0 824.73 913.34Z" fill="#D1529F"/>
<circle cx="814.8" cy="898.6" r="8.25" fill="#6D6EBA"/><path d="M814.8 898.6L823.05 898.6A8.25 8.25 0 0 0 811.75 890.93Z" fill="#10A497"/><path d="M814.8 898.6L811.75 890.93A8.25 8.25 0 0 0 814.99 906.85Z" fill="#D1529F"/>
<circle cx="828.4" cy="851.6" r="8.25" fill="#D1529F"/><path d="M828.4 851.6L836.65 851.6A8.25 8.25 0 0 0 823.87 844.71Z" fill="#10A497"/>
<circle cx="871.9" cy="901.7" r="8.25" fill="#10A497"/><path d="M871.9 901.7L880.15 901.7A8.25 8.25 0 1 0 864.12 904.44Z" fill="#F6921E"/>
<circle cx="871.9" cy="884.5" r="8.25" fill="#F6921E"/><path d="M871.9 884.5L880.15 884.5A8.25 8.25 0 0 0 864.12 881.76Z" fill="#10A497"/>
<circle cx="899.2" cy="883.7" r="8.25" fill="#9A999E"/><path d="M899.2 883.7L907.45 883.7A8.25 8.25 0 1 0 890.97 884.28Z" fill="#10A497"/>
<circle cx="914.2" cy="866.9" r="8.25" fill="#10A497"/><path d="M914.2 866.9L922.45 866.9A8.25 8.25 0 0 0 906.31 864.5Z" fill="#F6921E"/>
<circle cx="941" cy="863.8" r="8.25" fill="#9A999E"/><path d="M941 863.8L949.25 863.8A8.25 8.25 0 1 0 934.67 869.09Z" fill="#10A497"/>
<circle cx="857.8" cy="828.7" r="8.25" fill="#6D6EBA"/><path d="M857.8 828.7L866.05 828.7A8.25 8.25 0 0 0 850.76 824.39Z" fill="#10A497"/>
<circle cx="868.6" cy="822.4" r="8.25" fill="#10A497"/><path d="M868.6 822.4L876.85 822.4A8.25 8.25 0 1 0 860.96 825.52Z" fill="#D1529F"/>
<circle cx="868.6" cy="838.5" r="8.25" fill="#D1529F"/><path d="M868.6 838.5L876.85 838.5A8.25 8.25 0 0 0 860.96 835.38Z" fill="#10A497"/>
<circle cx="911.6" cy="801" r="8.25" fill="#10A497"/><path d="M911.6 801L919.85 801A8.25 8.25 0 0 0 903.62 798.91Z" fill="#D1529F"/>
<circle cx="900.9" cy="814" r="8.25" fill="#6D6EBA"/><path d="M900.9 814L909.15 814A8.25 8.25 0 1 0 892.69 814.79Z" fill="#10A497"/>
<circle cx="900.9" cy="805.2" r="8.25" fill="#10A497"/><path d="M900.9 805.2L909.15 805.2A8.25 8.25 0 0 0 892.69 804.41Z" fill="#6D6EBA"/>
<circle cx="942.7" cy="786.6" r="8.25" fill="#10A497"/><path d="M942.7 786.6L950.95 786.6A8.25 8.25 0 0 0 936.5 781.15Z" fill="#6D6EBA"/>
<circle cx="1005.1" cy="783.6" r="8.25" fill="#10A497"/><path d="M1005.1 783.6L1013.35 783.6A8.25 8.25 0 0 0 1005.79 775.38Z" fill="#F6921E"/>
<circle cx="1002.8" cy="726.8" r="8.25" fill="#10A497"/><path d="M1002.8 726.8L1011.05 726.8A8.25 8.25 0 0 0 1003.21 718.56Z" fill="#D1529F"/>
<circle cx="1024.5" cy="729.3" r="8.25" fill="#10A497"/><path d="M1024.5 729.3L1032.75 729.3A8.25 8.25 0 0 0 1027.51 721.62Z" fill="#6D6EBA"/>
<circle cx="1053.6" cy="729.3" r="8.25" fill="#10A497"/><path d="M1053.6 729.3L1061.85 729.3A8.25 8.25 0 0 0 1059.57 723.61Z" fill="#F6921E"/>
<circle cx="1052.2" cy="691.7" r="8.25" fill="#10A497"/>
<circle cx="1064.4" cy="687.2" r="8.25" fill="#10A497"/><path d="M1064.4 687.2L1072.65 687.2A8.25 8.25 0 0 0 1071.21 682.54Z" fill="#6D6EBA"/>
<circle cx="1078.8" cy="683.7" r="8.25" fill="#10A497"/><path d="M1078.8 683.7L1087.05 683.7A8.25 8.25 0 0 0 1086.45 680.61Z" fill="#F6921E"/>
<circle cx="1078.1" cy="670.4" r="8.25" fill="#10A497"/>
<circle cx="1086.5" cy="667.6" r="8.25" fill="#10A497"/>
<circle cx="1104.5" cy="632.8" r="8.25" fill="#10A497"/>
<path d="M684.5 1052L1104.5 632" stroke="#111" stroke-width="2.5" stroke-dasharray="9.63 4.16" fill="none"/>
<text x="775.62" y="600.6" font-size="31.4" stroke="#000" stroke-width="0.35" textLength="237.42" lengthAdjust="spacingAndGlyphs">Delta Predictions</text>
<text x="799.47" y="1138.3" font-size="23.98" stroke="#000" stroke-width="0.35" textLength="187.67" lengthAdjust="spacingAndGlyphs">Expected Fraction</text>
<text transform="translate(608.7 918.79) rotate(-90)" font-size="24.42" stroke="#000" stroke-width="0.35" textLength="193.71" lengthAdjust="spacingAndGlyphs">Estimated Fraction</text>
<text x="577.86" y="602.9" font-size="49.32" font-weight="bold" stroke="#000" stroke-width="0.5" textLength="24.33" lengthAdjust="spacingAndGlyphs">E</text>
</g>
<g id="panel-F">
<rect x="1250" y="611.2" width="462.2" height="461.8" fill="#fff" stroke="#0a0a0a" stroke-width="1.45"/>
<path d="M1271 1073v6.8M1250 1052h-6.8M1355 1073v6.8M1250 968h-6.8M1439 1073v6.8M1250 884h-6.8M1523 1073v6.8M1250 800h-6.8M1607 1073v6.8M1250 716h-6.8M1691 1073v6.8M1250 632h-6.8" stroke="#0a0a0a" stroke-width="1.3" fill="none"/>
<g class="ticks">
<text x="1257.54" y="1098.8" font-size="19.14" stroke="#000" stroke-width="0.35" textLength="25.49" lengthAdjust="spacingAndGlyphs">0.0</text>
<text x="1210.26" y="1058.8" font-size="19.14" stroke="#000" stroke-width="0.35" textLength="25.46" lengthAdjust="spacingAndGlyphs">0.0</text>
<text x="1341.55" y="1098.8" font-size="19.14" stroke="#000" stroke-width="0.35" textLength="25.48" lengthAdjust="spacingAndGlyphs">0.2</text>
<text x="1210.24" y="974.8" font-size="19.14" stroke="#000" stroke-width="0.35" textLength="25.59" lengthAdjust="spacingAndGlyphs">0.2</text>
<text x="1425.54" y="1098.8" font-size="19.14" stroke="#000" stroke-width="0.35" textLength="25.13" lengthAdjust="spacingAndGlyphs">0.4</text>
<text x="1210.29" y="890.8" font-size="19.14" stroke="#000" stroke-width="0.35" textLength="25.21" lengthAdjust="spacingAndGlyphs">0.4</text>
<text x="1509.55" y="1098.8" font-size="19.14" stroke="#000" stroke-width="0.35" textLength="25.77" lengthAdjust="spacingAndGlyphs">0.6</text>
<text x="1210.22" y="806.8" font-size="19.14" stroke="#000" stroke-width="0.35" textLength="25.56" lengthAdjust="spacingAndGlyphs">0.6</text>
<text x="1593.55" y="1098.8" font-size="19.14" stroke="#000" stroke-width="0.35" textLength="25.4" lengthAdjust="spacingAndGlyphs">0.8</text>
<text x="1210.22" y="722.8" font-size="19.14" stroke="#000" stroke-width="0.35" textLength="25.57" lengthAdjust="spacingAndGlyphs">0.8</text>
<text x="1677.72" y="1098.8" font-size="19.14" stroke="#000" stroke-width="0.35" textLength="24.68" lengthAdjust="spacingAndGlyphs">1.0</text>
<text x="1210.97" y="638.8" font-size="19.14" stroke="#000" stroke-width="0.35" textLength="24.64" lengthAdjust="spacingAndGlyphs">1.0</text>
</g>
<path d="M1310.6 988.4V1014.3M1306.9 988.4H1314.3M1306.9 1014.3H1314.3M1360.1 964V980M1356.4 964H1363.8M1356.4 980H1363.8M1384.2 967V992.1M1380.5 967H1387.9M1380.5 992.1H1387.9M1432.5 889.9V915M1428.8 889.9H1436.2M1428.8 915H1436.2M1516.6 849.2V868.9M1512.9 849.2H1520.3M1512.9 868.9H1520.3M1584.2 752.4V768.6M1580.5 752.4H1587.9M1580.5 768.6H1587.9M1602.7 761.3V777.5M1599 761.3H1606.4M1599 777.5H1606.4M1637.1 747.3V769M1633.4 747.3H1640.8M1633.4 769H1640.8M1663.7 707.6V725.5M1660 707.6H1667.4M1660 725.5H1667.4" stroke="#111" stroke-width="1.55" fill="none"/>
<circle cx="1287.2" cy="1034.2" r="8.25" fill="#F6921E"/>
<circle cx="1301.9" cy="1029" r="8.25" fill="#9A999E"/>
<circle cx="1305" cy="1023.4" r="8.25" fill="#F6921E"/><path d="M1305 1023.4L1313.25 1023.4A8.25 8.25 0 0 0 1312.21 1019.38Z" fill="#6D6EBA"/>
<circle cx="1285.8" cy="1017.1" r="8.25" fill="#D1529F"/>
<circle cx="1291" cy="1019.2" r="8.25" fill="#10A497"/>
<circle cx="1302.2" cy="994" r="8.25" fill="#D1529F"/>
<circle cx="1310.6" cy="1001.4" r="8.25" fill="#10A497"/><path d="M1310.6 1001.4L1318.85 1001.4A8.25 8.25 0 0 0 1317.44 996.79Z" fill="#6D6EBA"/>
<circle cx="1329.9" cy="1009.7" r="8.25" fill="#9A999E"/><path d="M1329.9 1009.7L1338.15 1009.7A8.25 8.25 0 0 0 1335.15 1003.34Z" fill="#6D6EBA"/>
<circle cx="1337.7" cy="996.8" r="8.25" fill="#F6921E"/><path d="M1337.7 996.8L1345.95 996.8A8.25 8.25 0 0 0 1342.17 989.87Z" fill="#6D6EBA"/>
<circle cx="1348.9" cy="990.5" r="8.25" fill="#F6921E"/><path d="M1348.9 990.5L1357.15 990.5A8.25 8.25 0 0 0 1350.52 982.41Z" fill="#10A497"/><path d="M1348.9 990.5L1350.52 982.41A8.25 8.25 0 0 0 1340.69 991.36Z" fill="#D1529F"/><path d="M1348.9 990.5L1340.69 991.36A8.25 8.25 0 0 0 1346.45 998.38Z" fill="#6D6EBA"/>
<circle cx="1336" cy="949.1" r="8.25" fill="#D1529F"/><path d="M1336 949.1L1344.25 949.1A8.25 8.25 0 0 0 1340.65 942.28Z" fill="#6D6EBA"/>
<circle cx="1351" cy="959.6" r="8.25" fill="#10A497"/><path d="M1351 959.6L1359.25 959.6A8.25 8.25 0 0 0 1354.01 951.92Z" fill="#6D6EBA"/>
<circle cx="1360.1" cy="972.9" r="8.25" fill="#F6921E"/><path d="M1360.1 972.9L1368.35 972.9A8.25 8.25 0 0 0 1352.25 970.36Z" fill="#D1529F"/><path d="M1360.1 972.9L1352.25 970.36A8.25 8.25 0 0 0 1355.78 979.93Z" fill="#6D6EBA"/>
<circle cx="1369.9" cy="977.1" r="8.25" fill="#F6921E"/><path d="M1369.9 977.1L1378.15 977.1A8.25 8.25 0 0 0 1370.65 968.88Z" fill="#6D6EBA"/><path d="M1369.9 977.1L1370.65 968.88A8.25 8.25 0 0 0 1361.85 975.29Z" fill="#D1529F"/>
<circle cx="1372" cy="970.1" r="8.25" fill="#F6921E"/><path d="M1372 970.1L1380.25 970.1A8.25 8.25 0 0 0 1372.49 961.86Z" fill="#6D6EBA"/><path d="M1372 970.1L1372.49 961.86A8.25 8.25 0 0 0 1363.91 968.47Z" fill="#10A497"/><path d="M1372 970.1L1363.91 968.47A8.25 8.25 0 0 0 1373.14 978.27Z" fill="#D1529F"/>
<circle cx="1384.2" cy="979.2" r="8.25" fill="#9A999E"/><path d="M1384.2 979.2L1392.45 979.2A8.25 8.25 0 0 0 1383.19 971.01Z" fill="#6D6EBA"/>
<circle cx="1396.1" cy="957.9" r="8.25" fill="#6D6EBA"/><path d="M1396.1 957.9L1404.35 957.9A8.25 8.25 0 0 0 1388.02 956.26Z" fill="#10A497"/><path d="M1396.1 957.9L1388.02 956.26A8.25 8.25 0 0 0 1393.66 965.78Z" fill="#F6921E"/>
<circle cx="1384.9" cy="955.4" r="8.25" fill="#6D6EBA"/><path d="M1384.9 955.4L1393.15 955.4A8.25 8.25 0 0 0 1377.76 951.27Z" fill="#F6921E"/><path d="M1384.9 955.4L1377.76 951.27A8.25 8.25 0 0 0 1383.8 963.58Z" fill="#D1529F"/>
<circle cx="1393.3" cy="934.8" r="8.25" fill="#6D6EBA"/><path d="M1393.3 934.8L1401.55 934.8A8.25 8.25 0 0 0 1389.46 927.5Z" fill="#10A497"/><path d="M1393.3 934.8L1389.46 927.5A8.25 8.25 0 0 0 1391.19 942.78Z" fill="#D1529F"/>
<circle cx="1411.7" cy="943.5" r="8.25" fill="#F6921E"/><path d="M1411.7 943.5L1419.95 943.5A8.25 8.25 0 0 0 1407.5 936.4Z" fill="#6D6EBA"/>
<circle cx="1408.8" cy="878.7" r="8.25" fill="#D1529F"/><path d="M1408.8 878.7L1417.05 878.7A8.25 8.25 0 0 0 1404.91 871.42Z" fill="#6D6EBA"/>
<circle cx="1432.5" cy="902.5" r="8.25" fill="#10A497"/><path d="M1432.5 902.5L1440.75 902.5A8.25 8.25 0 0 0 1426.33 897.03Z" fill="#6D6EBA"/>
<circle cx="1451.9" cy="909.5" r="8.25" fill="#6D6EBA"/><path d="M1451.9 909.5L1460.15 909.5A8.25 8.25 0 1 0 1444.42 912.98Z" fill="#F6921E"/>
<circle cx="1479.2" cy="919.4" r="8.25" fill="#9A999E"/><path d="M1479.2 919.4L1487.45 919.4A8.25 8.25 0 0 0 1470.95 919.18Z" fill="#6D6EBA"/>
<circle cx="1448.5" cy="857.2" r="8.25" fill="#6D6EBA"/><path d="M1448.5 857.2L1456.75 857.2A8.25 8.25 0 1 0 1441.21 861.05Z" fill="#D1529F"/>
<circle cx="1474.2" cy="873.1" r="8.25" fill="#6D6EBA"/><path d="M1474.2 873.1L1482.45 873.1A8.25 8.25 0 1 0 1465.99 873.94Z" fill="#10A497"/>
<circle cx="1474.2" cy="882.9" r="8.25" fill="#10A497"/><path d="M1474.2 882.9L1482.45 882.9A8.25 8.25 0 0 0 1465.99 882.06Z" fill="#6D6EBA"/>
<circle cx="1494.1" cy="883.3" r="8.25" fill="#6D6EBA"/><path d="M1494.1 883.3L1502.35 883.3A8.25 8.25 0 0 0 1486.01 881.69Z" fill="#F6921E"/>
<circle cx="1521.2" cy="899.7" r="8.25" fill="#9A999E"/><path d="M1521.2 899.7L1529.45 899.7A8.25 8.25 0 1 0 1514.4 904.37Z" fill="#6D6EBA"/>
<circle cx="1516.6" cy="858.8" r="8.25" fill="#6D6EBA"/><path d="M1516.6 858.8L1524.85 858.8A8.25 8.25 0 0 0 1509.49 854.61Z" fill="#10A497"/>
<circle cx="1490.9" cy="831.7" r="8.25" fill="#6D6EBA"/><path d="M1490.9 831.7L1499.15 831.7A8.25 8.25 0 0 0 1482.74 830.48Z" fill="#D1529F"/>
<circle cx="1586.7" cy="818.7" r="8.25" fill="#6D6EBA"/><path d="M1586.7 818.7L1594.95 818.7A8.25 8.25 0 0 0 1586.79 810.45Z" fill="#F6921E"/>
<circle cx="1584.2" cy="760.4" r="8.25" fill="#6D6EBA"/><path d="M1584.2 760.4L1592.45 760.4A8.25 8.25 0 0 0 1583.98 752.15Z" fill="#D1529F"/>
<circle cx="1602.7" cy="768.9" r="8.25" fill="#6D6EBA"/><path d="M1602.7 768.9L1610.95 768.9A8.25 8.25 0 0 0 1604.74 760.91Z" fill="#10A497"/>
<circle cx="1637.1" cy="758.1" r="8.25" fill="#6D6EBA"/><path d="M1637.1 758.1L1645.35 758.1A8.25 8.25 0 0 0 1642.81 752.15Z" fill="#F6921E"/>
<circle cx="1635.7" cy="716.3" r="8.25" fill="#6D6EBA"/>
<circle cx="1646.9" cy="716.7" r="8.25" fill="#6D6EBA"/><path d="M1646.9 716.7L1655.15 716.7A8.25 8.25 0 0 0 1653.42 711.64Z" fill="#10A497"/>
<circle cx="1663.7" cy="716" r="8.25" fill="#6D6EBA"/><path d="M1663.7 716L1671.95 716A8.25 8.25 0 0 0 1671.27 712.72Z" fill="#F6921E"/>
<circle cx="1662.6" cy="685.8" r="8.25" fill="#6D6EBA"/>
<circle cx="1668.7" cy="692.6" r="8.25" fill="#6D6EBA"/>
<circle cx="1691.1" cy="633.7" r="8.25" fill="#6D6EBA"/>
<path d="M1271 1052L1691 632" stroke="#111" stroke-width="2.5" stroke-dasharray="9.63 4.16" fill="none"/>
<text x="1343.6" y="600.6" font-size="31.4" stroke="#000" stroke-width="0.35" textLength="273.08" lengthAdjust="spacingAndGlyphs">Gamma Predictions</text>
<text x="1406.19" y="1138.3" font-size="23.98" stroke="#000" stroke-width="0.35" textLength="187.94" lengthAdjust="spacingAndGlyphs">Expected Fraction</text>
<text transform="translate(1188.7 923.79) rotate(-90)" font-size="24.42" stroke="#000" stroke-width="0.35" textLength="193.71" lengthAdjust="spacingAndGlyphs">Estimated Fraction</text>
<text x="1168.71" y="600.8" font-size="49.32" font-weight="bold" stroke="#000" stroke-width="0.5" textLength="24.21" lengthAdjust="spacingAndGlyphs">F</text>
</g>
</svg></body></html>
